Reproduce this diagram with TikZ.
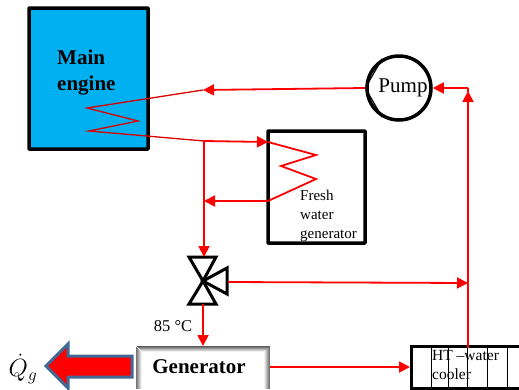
\documentclass[tikz,border=0pt]{standalone}
\usepackage{fontspec}
\setmainfont{Liberation Serif}
\usetikzlibrary{arrows.meta, positioning}

\begin{document}
\begin{tikzpicture}[
  x=1pt, y=-1pt,
  box/.style={draw=black, line width=3.5pt, rounded corners=.5pt},
  txt/.style={inner sep=0pt, align=left, text=black},
  flow/.style={draw=red, line width=1.8pt, -{Triangle[length=11pt,width=11pt]}},
  pipe/.style={draw=red, line width=1.8pt},
  coil/.style={draw=red!85!black, line width=1.3pt},
  thin black/.style={draw=black, line width=1.2pt},
  valve/.style={draw=black, line width=3pt, fill=white, line join=miter}]

  \useasboundingbox (0,0) rectangle (519,389);

  % main engine
  \draw[box, fill={rgb,255:red,0;green,176;blue,240}] (29,8) rectangle (148,149);
  \node[txt, font=\bfseries\fontsize{21}{26}\selectfont, anchor=north west](engine) at (57,50){Main\\engine};

  % pump
  \node[circle, draw=black, line width=3.5pt, minimum size=64pt, inner sep=0pt](pump) at (399,88){};
  \node[inner sep=0pt, font=\fontsize{21}{24}\selectfont](pumptxt) at (403,88){Pump};
  \draw[thin black] (pump.west) -- (pump.120);
  \draw[thin black] (pump.west) -- (pump.-120);

  % fresh water generator
  \draw[box] (268,131) rectangle (365,243);
  \node[txt, font=\fontsize{15}{19}\selectfont, anchor=north west](fwg) at (300,190){Fresh\\water\\generator};

  % valve
  \coordinate(v) at (203,281);
  \draw[valve] (v) -- (189,257) -- (216,257) -- cycle;
  \draw[valve] (v) -- (189,304) -- (216,304) -- cycle;
  \draw[valve] (v) -- (227,268) -- (227,294) -- cycle;

  % generator
  \fill[white] (136,346) rectangle (270,389);
  \foreach \i in {0,...,5}
    \draw[black!\the\numexpr 65-12*\i\relax, line width=1pt] (136.5+\i,346.5+\i) -- (269.5-\i,346.5+\i);
  \foreach \i in {0,...,5}
    \draw[black!\the\numexpr 55-10*\i\relax, line width=1pt] (136.5+\i,346.5+\i) -- (136.5+\i,389);
  \foreach \i in {0,...,5}
    \draw[black!\the\numexpr 55-10*\i\relax, line width=1pt] (269.5-\i,346.5+\i) -- (269.5-\i,389);
  \node[txt, font=\bfseries\fontsize{21}{24}\selectfont](gen) at (199,367){Generator};

  % cooler
  \draw[black, line width=3pt] (519,346) -- (411,346) -- (411,388) -- (519,388);
  \foreach \x in {431,448,467,487,507}
    \draw[black, line width=1pt] (\x,346) -- (\x,388);
  \node[txt, font=\fontsize{15.5}{19}\selectfont, anchor=north west](cooler) at (432,350){HT --water\\cooler};

  % heat arrow
  \draw[fill=red, draw={rgb,255:red,65;green,105;blue,150}, line width=3pt, line join=miter]
    (132,356) -- (68,356) -- (68,344) -- (46,366) -- (68,388) -- (68,377) -- (132,377) -- cycle;
  \node[inner sep=0pt, font=\fontsize{23}{26}\selectfont](qg) at (23,369){$\dot{Q}_g$};
  \node[inner sep=0pt, font=\fontsize{16.5}{18}\selectfont](temp) at (173,326){85 °C};

  % pipes
  \coordinate(a) at (87,108);
  \coordinate(b) at (138,121);
  \coordinate(c) at (89,131);
  \coordinate(d) at (204,141);
  \coordinate(e) at (316,155);
  \coordinate(f) at (281,166);
  \coordinate(g) at (316,179);
  \coordinate(h) at (268,201);
  \coordinate(i) at (204,201);
  \coordinate(j) at (468,88);
  \draw[flow] (pump.west) -- (203,90);
  \draw[coil] (203,90) -- (a) -- (b) -- (c) -- (d);
  \draw[flow] (d) -- (268,142);
  \draw[pipe] (268,142) -- (e) -- (f) -- (g) -- (h);
  \draw[flow] (h) -- (i);
  \draw[flow] (d) -- (204,257);
  \draw[flow] (203,304) -- (203,346);
  \draw[flow] (228,282) -- (468,283);
  \draw[flow] (270,367) -- (410,367);
  \draw[flow] (468,348) -- (468,91);
  \draw[pipe] (468,92) -- (j);
  \draw[flow] (j) -- (pump.east);
\end{tikzpicture}
\end{document}
